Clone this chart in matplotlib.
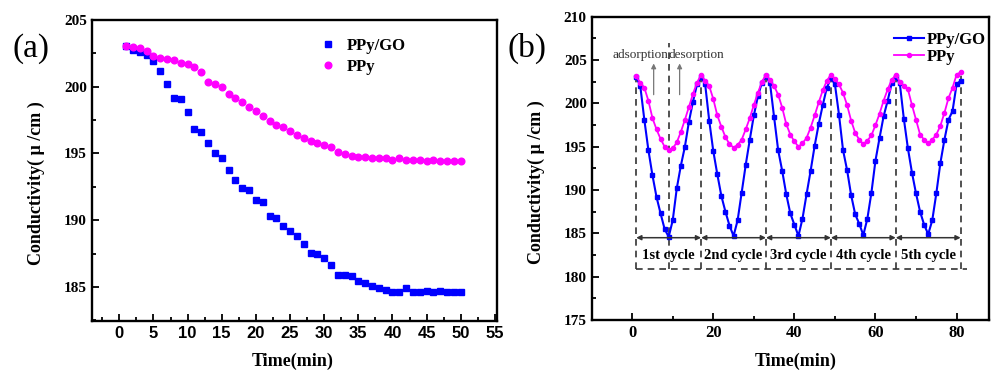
import numpy as np
import matplotlib.pyplot as plt
from matplotlib.ticker import MultipleLocator

# ---- panel (a): conductivity vs time ----
t_a = list(range(1, 51))
go_a = [203.07, 202.75, 202.57, 202.37, 201.95, 201.2, 200.18, 199.18, 199.08, 198.08,
        196.8, 196.58, 195.78, 195.05, 194.65, 193.75, 192.98, 192.45, 192.25, 191.55,
        191.38, 190.35, 190.15, 189.55, 189.18, 188.85, 188.23, 187.55, 187.45, 187.15,
        186.65, 185.93, 185.93, 185.83, 185.45, 185.33, 185.05, 184.95, 184.75, 184.63,
        184.63, 184.95, 184.63, 184.63, 184.73, 184.63, 184.73, 184.63, 184.63, 184.63]
ppy_a = [203.07, 202.98, 202.88, 202.68, 202.28, 202.18, 202.08, 201.98, 201.78, 201.68,
         201.48, 201.1, 200.38, 200.18, 199.98, 199.45, 199.18, 198.88, 198.48, 198.18,
         197.78, 197.45, 197.15, 196.95, 196.65, 196.35, 196.15, 195.95, 195.75, 195.65,
         195.45, 195.13, 194.93, 194.83, 194.73, 194.73, 194.63, 194.63, 194.63, 194.53,
         194.63, 194.53, 194.53, 194.53, 194.43, 194.53, 194.43, 194.43, 194.43, 194.43]

# ---- panel (b): five adsorption/desorption cycles ----
t_b = list(range(1, 82))
go_b = [203.0, 202.0, 198.1, 194.6, 191.7, 189.2, 187.3, 185.5, 184.6, 186.5, 190.2, 192.8, 195.0, 197.9, 200.2, 202.2, 203.0,
        202.2, 198.0, 194.5, 191.8, 189.3, 187.5, 185.9, 184.7, 186.5, 189.7, 192.9, 195.8, 198.6, 200.8, 202.4, 203.1,
        202.3, 198.4, 194.6, 192.2, 189.5, 187.3, 186.0, 184.7, 186.7, 189.5, 192.2, 195.1, 197.6, 199.8, 201.8, 202.9,
        202.2, 198.7, 194.6, 192.3, 189.4, 187.2, 186.1, 184.8, 186.7, 189.7, 193.4, 196.0, 198.5, 200.3, 202.3, 203.0,
        202.3, 198.2, 194.8, 192.0, 189.6, 187.5, 186.0, 184.9, 186.5, 189.6, 193.1, 195.8, 198.1, 199.1, 202.2, 202.6]
ppy_b = [203.1, 202.4, 201.8, 200.3, 198.3, 197.0, 195.9, 195.0, 194.6, 194.8, 195.5, 196.7, 198.1, 199.6, 201.1, 202.4, 203.3,
         202.6, 202.0, 200.5, 198.6, 197.3, 196.1, 195.3, 194.9, 195.2, 195.8, 197.0, 198.3, 199.8, 201.2, 202.5, 203.3,
         202.7, 202.0, 201.0, 199.5, 197.6, 196.4, 195.6, 195.0, 195.4, 196.0, 197.2, 198.6, 200.1, 201.5, 202.6, 203.3,
         202.8, 202.2, 201.2, 199.8, 198.0, 196.6, 195.8, 195.3, 195.7, 196.3, 197.5, 198.8, 200.3, 201.6, 202.7, 203.3,
         202.5, 202.0, 201.6, 199.8, 198.1, 196.4, 195.8, 195.4, 195.8, 196.4, 197.4, 198.9, 200.6, 201.8, 203.3, 203.6]

cycle_bounds = [1, 17, 33, 49, 65, 81]
cycle_names = ['1st cycle', '2nd cycle', '3rd cycle', '4th cycle', '5th cycle']

serif = 'Liberation Serif'
sans = 'Liberation Sans'
plt.rcParams['font.family'] = serif

fig = plt.figure(figsize=(9.91, 3.70), dpi=100)
ax1 = fig.add_axes([0.0928, 0.1324, 0.4087, 0.8136])
ax2 = fig.add_axes([0.597, 0.135, 0.401, 0.820])


def style_axes(ax):
    for s in ax.spines.values():
        s.set_linewidth(1.7)
    ax.tick_params(which='both', direction='in', top=False, right=False, width=1.3)
    ax.tick_params(which='major', length=5)
    ax.tick_params(which='minor', length=3)


# panel (a)
ax1.plot(t_a, go_a, 's', color='#0000ff', ms=4.3, mec='#0000ff', label='PPy/GO')
ax1.plot(t_a, ppy_a, 'o', color='#ff00ff', ms=4.8, mec='#ff00ff', label='PPy')
ax1.set_xlim(-4, 55.3)
ax1.set_ylim(182.45, 205)
ax1.xaxis.set_major_locator(MultipleLocator(5))
ax1.xaxis.set_minor_locator(MultipleLocator(2.5))
ax1.yaxis.set_major_locator(MultipleLocator(5))
ax1.yaxis.set_minor_locator(MultipleLocator(2.5))
style_axes(ax1)
for lb in ax1.get_xticklabels():
    lb.set_fontfamily(sans)
    lb.set_fontweight('bold')
    lb.set_fontsize(12)
for lb in ax1.get_yticklabels():
    lb.set_fontweight('bold')
    lb.set_fontsize(11)
ax1.set_xlabel('Time(min)', fontsize=13, fontweight='bold')
ax1.set_ylabel('Conductivity( μ /cm )', fontsize=13, fontweight='bold')
ax1.xaxis.set_label_coords(0.496, -0.105)
ax1.yaxis.set_label_coords(-0.116, 0.457)
ax1.legend(loc='upper left', bbox_to_anchor=(0.525, 0.99), frameon=False,
           prop={'family': serif, 'weight': 'bold', 'size': 12},
           handlelength=1.0, handletextpad=0.6, labelspacing=0.3)

# panel (b)
ax2.plot(t_b, go_b, '-s', color='#0000ff', lw=1.5, ms=3.0, label='PPy/GO')
ax2.plot(t_b, ppy_b, '-o', color='#ff00ff', lw=1.3, ms=3.0, label='PPy')
ax2.set_xlim(-10, 88)
ax2.set_ylim(175, 210)
ax2.xaxis.set_major_locator(MultipleLocator(20))
ax2.xaxis.set_minor_locator(MultipleLocator(10))
ax2.yaxis.set_major_locator(MultipleLocator(5))
ax2.yaxis.set_minor_locator(MultipleLocator(2.5))
style_axes(ax2)
for lb in ax2.get_xticklabels():
    lb.set_fontweight('bold')
    lb.set_fontsize(12)
for lb in ax2.get_yticklabels():
    lb.set_fontweight('bold')
    lb.set_fontsize(11)
ax2.set_xlabel('Time(min)', fontsize=13, fontweight='bold')
ax2.set_ylabel('Conductivity( μ /cm )', fontsize=13, fontweight='bold')
ax2.xaxis.set_label_coords(0.513, -0.108)
ax2.yaxis.set_label_coords(-0.117, 0.456)

# cycle guides
dash = dict(color='#333333', lw=1.2, ls=(0, (4, 3)))
for xb in cycle_bounds:
    top = ppy_b[xb - 1]
    ax2.plot([xb, xb], [180.9, top], **dash, zorder=1)
ax2.plot([9, 9], [180.9, 207.0], **dash, zorder=1)
ax2.plot([1, 82.5], [180.9, 180.9], **dash, zorder=1)
for i, name in enumerate(cycle_names):
    x0, x1 = cycle_bounds[i], cycle_bounds[i + 1]
    ax2.annotate('', xy=(x1, 184.5), xytext=(x0, 184.5),
                 arrowprops=dict(arrowstyle='<|-|>', color='#333333', lw=1.1,
                                 mutation_scale=7, shrinkA=0, shrinkB=0))
    ax2.text((x0 + x1) / 2, 182.5, name, ha='center', va='center',
             fontsize=10.5, fontweight='bold')
ax2.text(9, 205.6, 'adsorption', ha='right', va='center', fontsize=9.5, color='#333333')
ax2.text(9, 205.6, 'desorption', ha='left', va='center', fontsize=9.5, color='#333333')
for xa in [5.3, 11.7]:
    ax2.annotate('', xy=(xa, 204.6), xytext=(xa, 201.0),
                 arrowprops=dict(arrowstyle='-|>', color='#777777', lw=0.9,
                                 mutation_scale=7, shrinkA=0, shrinkB=0))
ax2.legend(loc='upper right', bbox_to_anchor=(1.03, 1.0), frameon=False,
           prop={'family': serif, 'weight': 'bold', 'size': 12},
           handlelength=1.8, handletextpad=0.15, labelspacing=0.1)

fig.text(0.031, 0.868, '(a)', fontsize=24, ha='center', va='center')
fig.text(0.532, 0.870, '(b)', fontsize=24, ha='center', va='center')

fig.savefig('out.png', dpi=100)
